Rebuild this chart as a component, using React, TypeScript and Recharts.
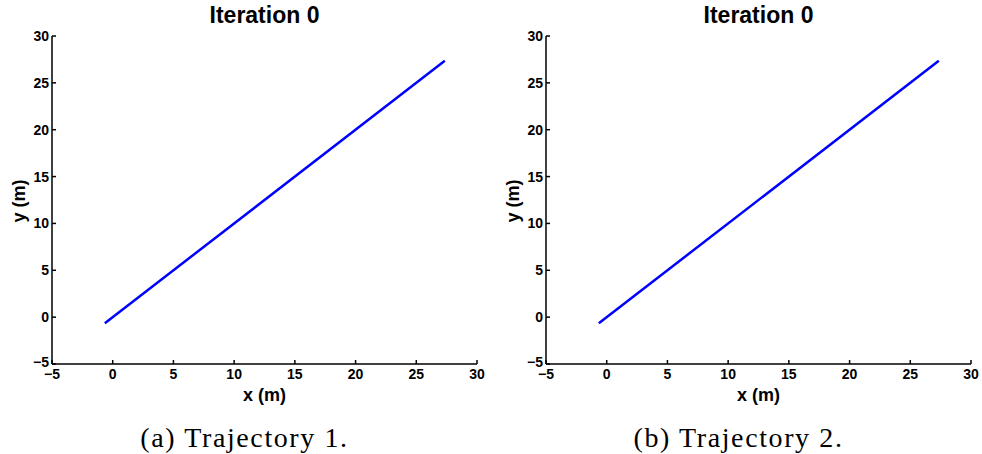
import { LineChart, Line, XAxis, YAxis } from "recharts";

type Point = { x: number; y: number };

// trajectory endpoints (m)
const trajectory1: Point[] = [
  { x: -0.65, y: -0.65 },
  { x: 27.35, y: 27.35 },
];
const trajectory2: Point[] = [
  { x: -0.65, y: -0.65 },
  { x: 27.35, y: 27.35 },
];
const axisTicks = [-5, 0, 5, 10, 15, 20, 25, 30];
const panelTitles = ["Iteration 0", "Iteration 0"];
const captions = ["(a) Trajectory 1.", "(b) Trajectory 2."];

const sans = "'Liberation Sans', Arial, Helvetica, sans-serif";
const fmt = (v: number) => (v < 0 ? "\u2212" + Math.abs(v) : String(v));

function XTick(props: any) {
  const { x, y, payload } = props;
  return (
    <text x={x} y={y} dy="0.71em" textAnchor="middle" fill="#000" fontSize={14} fontWeight={700} fontFamily={sans}>
      {fmt(payload.value)}
    </text>
  );
}

function YTick(props: any) {
  const { x, y, payload } = props;
  // the bottom label sits a touch higher so it clears the x-axis "−5"
  const dy = payload.value === -5 ? "0.2em" : "0.355em";
  return (
    <text x={x} y={y} dy={dy} textAnchor="end" fill="#000" fontSize={14} fontWeight={700} fontFamily={sans}>
      {fmt(payload.value)}
    </text>
  );
}

function Panel({
  data,
  title,
  caption,
  left,
  plotLeft,
  plotRight,
}: {
  data: Point[];
  title: string;
  caption: string;
  left: number;
  plotLeft: number;
  plotRight: number;
}) {
  const w = 491;
  const mid = (plotLeft + plotRight) / 2;
  const center: React.CSSProperties = {
    position: "absolute",
    transform: "translate(-50%, -50%)",
    whiteSpace: "nowrap",
    color: "#000",
  };
  return (
    <div style={{ position: "absolute", left, top: 0, width: w, height: 454 }}>
      <LineChart
        width={w}
        height={454}
        data={data}
        margin={{ top: 36, right: w - plotRight, bottom: 60, left: plotLeft - 40 }}
      >
        <XAxis
          type="number"
          dataKey="x"
          domain={[-5, 30]}
          ticks={axisTicks}
          height={30}
          tickSize={-4}
          tickMargin={9}
          interval={0}
          axisLine={{ stroke: "#000", strokeWidth: 1.5 }}
          tickLine={{ stroke: "#000", strokeWidth: 1.5 }}
          tick={<XTick />}
          allowDataOverflow
        />
        <YAxis
          type="number"
          dataKey="y"
          domain={[-5, 30]}
          ticks={axisTicks}
          width={40}
          tickSize={-4}
          tickMargin={7}
          interval={0}
          axisLine={{ stroke: "#000", strokeWidth: 1.5 }}
          tickLine={{ stroke: "#000", strokeWidth: 1.5 }}
          tick={<YTick />}
          allowDataOverflow
        />
        <Line
          type="linear"
          dataKey="y"
          stroke="#0000ff"
          strokeWidth={2.5}
          dot={false}
          isAnimationActive={false}
        />
      </LineChart>
      <div style={{ ...center, left: mid, top: 15, fontFamily: sans, fontWeight: 700, fontSize: 23 }}>
        {title}
      </div>
      <div style={{ ...center, left: mid, top: 395, fontFamily: sans, fontWeight: 700, fontSize: 18 }}>
        x (m)
      </div>
      <div
        style={{
          ...center,
          left: plotLeft - 33,
          top: 201,
          fontFamily: sans,
          fontWeight: 700,
          fontSize: 18,
          transform: "translate(-50%, -50%) rotate(-90deg)",
        }}
      >
        y (m)
      </div>
      <div
        style={{
          ...center,
          left: mid - 20,
          top: 438,
          fontFamily: "'Liberation Serif', 'Times New Roman', serif",
          fontSize: 28,
          letterSpacing: 1.6,
        }}
      >
        {caption}
      </div>
    </div>
  );
}

export default function App() {
  return (
    <div style={{ position: "absolute", left: 0, top: 0, width: 982, height: 454, background: "#fff" }}>
      <Panel data={trajectory1} title={panelTitles[0]} caption={captions[0]} left={0} plotLeft={52} plotRight={477} />
      <Panel data={trajectory2} title={panelTitles[1]} caption={captions[1]} left={491} plotLeft={55} plotRight={480} />
    </div>
  );
}
